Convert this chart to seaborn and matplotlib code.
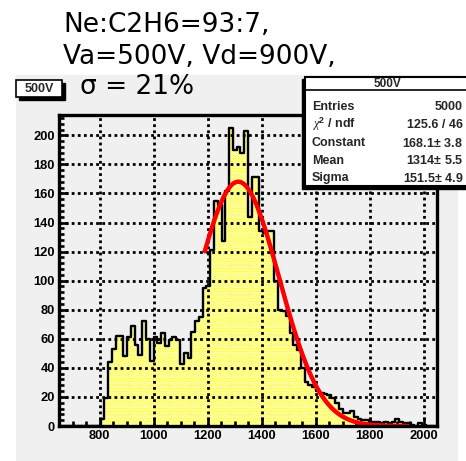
import numpy as np
import pandas as pd
import matplotlib
matplotlib.use("Agg")
import matplotlib.pyplot as plt
from matplotlib.patches import Rectangle
import seaborn as sns

sns.set_theme(style="white")
plt.rcParams["font.family"] = ["DejaVu Sans"]
plt.rcParams["hatch.linewidth"] = 1.8
plt.rcParams["mathtext.fontset"] = "custom"
plt.rcParams["mathtext.rm"] = "Liberation Sans:bold"
plt.rcParams["mathtext.it"] = "Liberation Serif:italic"

# Histogram binning (ADC channels)
bin_low = 650
bin_width = 14
n_bins = 100

# Counts per bin
counts = [0] * 11 + [
    5, 19, 44, 53, 62, 62, 48, 61, 69, 56,          # 11-20
    49, 72, 60, 45, 61, 57, 64, 55, 59, 61,         # 21-30
    59, 43, 50, 47, 65, 72, 75, 95, 96, 121,        # 31-40
    155, 152, 127, 162, 205, 190, 192, 188, 203, 144,  # 41-50
    171, 171, 134, 133, 134, 134, 100, 80, 79, 76,  # 51-60
    64, 56, 52, 40, 30, 28, 27, 24, 23, 22,         # 61-70
    21, 19, 16, 12, 9, 9, 10, 6, 5, 4,              # 71-80
    4, 3, 3, 3, 2, 3, 2, 3, 5, 3,                   # 81-90
    2, 2, 1, 0, 2, 1, 0, 0, 0,                      # 91-99
]

# Gaussian fit result
fit_const = 168.1
fit_mean = 1314
fit_sigma = 151.5
fit_range = (1190, 1940)

x_ticks = [800, 1000, 1200, 1400, 1600, 1800, 2000]
y_ticks = [0, 20, 40, 60, 80, 100, 120, 140, 160, 180, 200]

edges = [float(bin_low + bin_width * k) for k in range(n_bins + 1)]
centers = [0.5 * (edges[k] + edges[k + 1]) for k in range(n_bins)]
hist_df = pd.DataFrame({"adc": centers, "n": counts})

fx = np.linspace(fit_range[0], fit_range[1], 300)
fit_df = pd.DataFrame({"adc": fx,
                       "n": fit_const * np.exp(-0.5 * ((fx - fit_mean) / fit_sigma) ** 2)})

W, H = 466, 461
fig = plt.figure(figsize=(W / 100, H / 100), dpi=100)
fig.patch.set_facecolor("white")

pad_grey = "#f0f0f0"
# canvas pad
fig.patches.append(Rectangle((16 / W, 0), (458 - 16) / W, (H - 75) / H,
                             transform=fig.transFigure, facecolor=pad_grey,
                             edgecolor="none", zorder=-5))

ax = fig.add_axes([59 / W, (H - 426) / H, (437 - 59) / W, (426 - 115) / H])
ax.set_facecolor(pad_grey)

# filled histogram with dotted pattern
sns.histplot(data=hist_df, x="adc", weights="n", bins=edges, element="step",
             fill=True, color="#ffff00", alpha=1, linewidth=0,
             edgecolor="white", hatch=".....", ax=ax, zorder=1)
# black outline
sns.histplot(data=hist_df, x="adc", weights="n", bins=edges, element="step",
             fill=False, color="black", linewidth=1.7, ax=ax, zorder=3)
# gaussian fit
sns.lineplot(data=fit_df, x="adc", y="n", color="#ff0000", linewidth=3.2,
             ax=ax, zorder=4)

ax.set_xlim(650, 2050)
ax.set_ylim(0, 214)
ax.set_xticks(x_ticks)
ax.set_yticks(y_ticks)
ax.set_xticks(np.arange(700, 2050, 50), minor=True)
ax.set_yticks(np.arange(0, 214, 4), minor=True)
ax.set_xlabel("")
ax.set_ylabel("")

ax.set_axisbelow(False)
ax.grid(True, which="major", color="black", linestyle=(0, (1.0, 1.2)),
        linewidth=2.0)

ax.tick_params(axis="both", which="major", direction="in", length=6.5, width=1.9,
               colors="black", labelsize=9.3, pad=3,
               bottom=True, left=True, top=False, right=False)
ax.tick_params(axis="both", which="minor", direction="in", length=3.6, width=1.9,
               colors="black", bottom=True, left=True, top=False, right=False)
for lab in ax.get_xticklabels() + ax.get_yticklabels():
    lab.set_fontfamily("Liberation Sans")
    lab.set_fontweight("bold")

for sp in ax.spines.values():
    sp.set_visible(True)
    sp.set_color("black")
    sp.set_linewidth(2.4)
    sp.set_zorder(5)

# header text
hdr_size = 19
fig.text(63 / W, 1 - 32 / H, "Ne:C2H6=93:7,", fontsize=hdr_size, ha="left",
         va="baseline", color="black")
fig.text(63 / W, 1 - 64 / H, "Va=500V, Vd=900V,", fontsize=hdr_size, ha="left",
         va="baseline", color="black")
fig.text(80 / W, 1 - 94 / H, "σ = 21%", fontsize=hdr_size, ha="left",
         va="baseline", color="black")

# title box with shadow
fig.patches.append(Rectangle((19 / W, 1 - 100 / H), 46 / W, 17 / H,
                             transform=fig.transFigure, facecolor="black",
                             edgecolor="black", zorder=3))
fig.patches.append(Rectangle((16 / W, 1 - 97 / H), 46 / W, 17 / H,
                             transform=fig.transFigure, facecolor="white",
                             edgecolor="black", linewidth=1.2, zorder=4))
fig.text(39 / W, 1 - 88.5 / H, "500V", fontsize=9, fontweight="bold",
         family="Liberation Sans", ha="center", va="center", zorder=5)

# statistics box
fig.patches.append(Rectangle((302 / W, 1 - 189 / H), 170 / W, 110 / H,
                             transform=fig.transFigure, facecolor="black",
                             edgecolor="black", zorder=6))
fig.patches.append(Rectangle((305 / W, 1 - 186 / H), 170 / W, 109 / H,
                             transform=fig.transFigure, facecolor="white",
                             edgecolor="black", linewidth=1.5, zorder=7))
fig.lines.append(plt.Line2D([305 / W, 1], [1 - 90 / H, 1 - 90 / H],
                            transform=fig.transFigure, color="black",
                            linewidth=1.2, zorder=8))
fig.text(388 / W, 1 - 84 / H, "500V", fontsize=8.5, fontweight="bold",
         family="Liberation Sans", ha="center", va="center", zorder=9)

stat_names = ["Entries", r"$\chi^2$ / ndf", "Constant", "Mean", "Sigma"]
stat_values = ["5000", "125.6 / 46", "168.1$\\pm$ 3.8", "1314$\\pm$ 5.5",
               "151.5$\\pm$ 4.9"]
row_y = [106.5, 124.5, 143, 161, 178.5]
for name, val, yy in zip(stat_names, stat_values, row_y):
    fig.text(312 / W, 1 - yy / H, name, fontsize=9, fontweight="bold",
             family="Liberation Sans", ha="left", va="center", zorder=9)
    fig.text(463 / W, 1 - yy / H, val, fontsize=9, fontweight="bold",
             family="Liberation Sans", ha="right", va="center", zorder=9)

fig.savefig("out.png", dpi=100, facecolor="white")
